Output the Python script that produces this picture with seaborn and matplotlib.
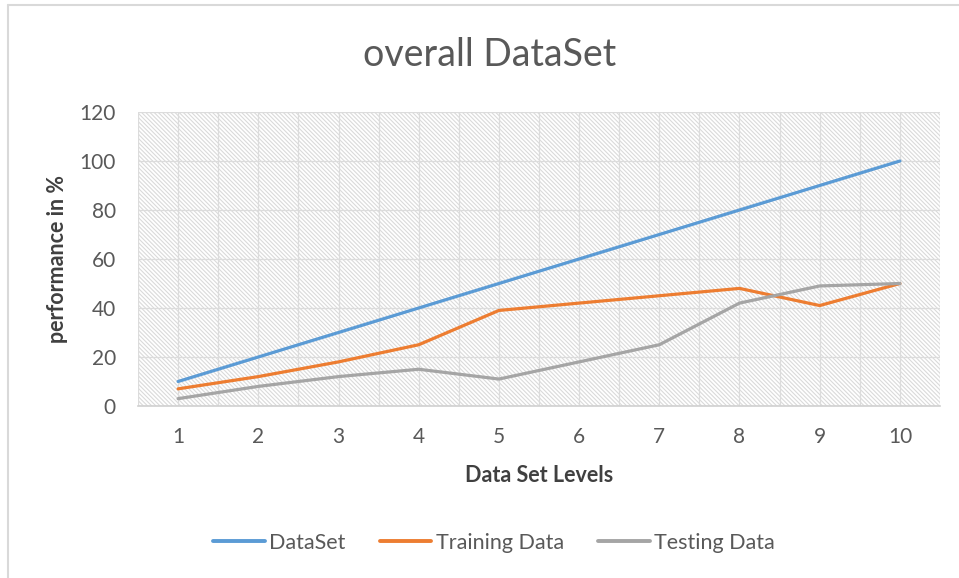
import matplotlib
matplotlib.use("Agg")
import matplotlib.pyplot as plt
import seaborn as sns
import pandas as pd
from matplotlib.patches import Rectangle
from matplotlib.lines import Line2D

# ---- data ----
levels = [1, 2, 3, 4, 5, 6, 7, 8, 9, 10]
dataset = [10, 20, 30, 40, 50, 60, 70, 80, 90, 100]
training = [7, 12, 18, 25, 39, 42, 45, 48, 41, 50]
testing = [3, 8, 12, 15, 11, 18, 25, 42, 49, 50]
series_names = ["DataSet", "Training Data", "Testing Data"]
y_ticks = [0, 20, 40, 60, 80, 100, 120]
title = "overall DataSet"
x_label = "Data Set Levels"
y_label = "performance in %"

colors = ["#5B9BD5", "#ED7D31", "#A5A5A5"]

df = pd.DataFrame({
    "level": levels * 3,
    "value": dataset + training + testing,
    "series": [series_names[0]] * len(levels) + [series_names[1]] * len(levels) + [series_names[2]] * len(levels),
})

sns.set_theme(style="white")
plt.rcParams["font.family"] = ["Lato", "DejaVu Sans"]
plt.rcParams["hatch.linewidth"] = 0.8

fig = plt.figure(figsize=(9.59, 5.78), dpi=100)
ax = fig.add_axes([138 / 959, 1 - 406 / 578, (940 - 138) / 959, (406 - 112) / 578])

# hatched plot background
bg = Rectangle((0, 0), 1, 1, transform=ax.transAxes, facecolor="white",
               edgecolor="#dadada", hatch="\\" * 8, lw=0, zorder=0)
ax.add_patch(bg)

sns.lineplot(data=df, x="level", y="value", hue="series", palette=colors,
             linewidth=2.3, ax=ax, legend=False, zorder=3)

ax.set_xlim(0.5, 10.5)
ax.set_ylim(0, 120)
ax.set_xticks(levels)
ax.set_xticks([l - 0.5 for l in levels] + [10.5], minor=True)
ax.set_yticks(y_ticks)
ax.set_axisbelow(True)
ax.grid(True, which="major", axis="both", color="#dcdcdc", lw=0.9)
ax.grid(True, which="minor", axis="x", color="#dcdcdc", lw=0.9)
ax.tick_params(axis="both", which="both", length=0, labelsize=15, labelcolor="#595959")
ax.tick_params(axis="x", pad=15)
ax.tick_params(axis="y", pad=16)

for s in ["top", "right", "left"]:
    ax.spines[s].set_visible(False)
ax.spines["bottom"].set_color("#d0d0d0")
ax.spines["bottom"].set_linewidth(1.2)

ax.set_xlabel(x_label, fontsize=15.5, fontweight="bold", color="#404040", labelpad=13)
ax.set_ylabel(y_label, fontsize=15.5, fontweight="bold", color="#404040", labelpad=8)

fig.text(490 / 959, 1 - 55 / 578, title, ha="center", va="center", fontsize=27, color="#595959")

handles = [Line2D([0], [0], color=c, lw=2.8) for c in colors]
fig.legend(handles, series_names, loc="center", bbox_to_anchor=(494 / 959, 1 - 543 / 578),
           ncol=3, frameon=False, fontsize=15.5, handlelength=2.4, handletextpad=0.2,
           columnspacing=1.6, labelcolor="#595959")

# outer chart border (top and left visible)
fig.add_artist(Line2D([8 / 959, 1], [1 - 5 / 578, 1 - 5 / 578], transform=fig.transFigure, color="#d9d9d9", lw=1.5))
fig.add_artist(Line2D([8 / 959, 8 / 959], [0, 1 - 5 / 578], transform=fig.transFigure, color="#d9d9d9", lw=1.5))

fig.savefig("out.png", dpi=100)
